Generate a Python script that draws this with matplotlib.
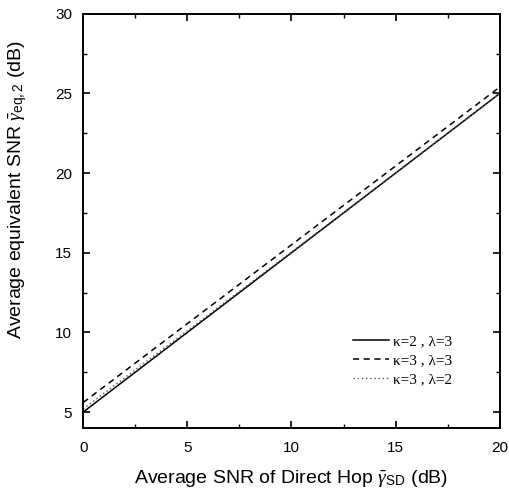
import matplotlib
matplotlib.use("Agg")
import matplotlib.pyplot as plt
from matplotlib.ticker import MultipleLocator

x_snr = [0, 5, 10, 15, 20]
y_k2_l3 = [5.0, 10.0, 15.0, 20.0, 25.0]
y_k3_l3 = [5.6, 10.55, 15.5, 20.45, 25.4]
y_k3_l2 = [5.2, 10.1, 15.05, 20.02, 25.0]
labels = [r"κ=2 , λ=3", r"κ=3 , λ=3", r"κ=3 , λ=2"]

plt.rcParams['font.family'] = ['Liberation Sans', 'DejaVu Sans']
plt.rcParams['mathtext.fontset'] = 'custom'
plt.rcParams['mathtext.rm'] = 'Liberation Sans'
plt.rcParams['mathtext.it'] = 'Liberation Serif:italic'

fig = plt.figure(figsize=(5.1, 4.92), dpi=100)
ax = fig.add_axes([0.163, 0.130, 0.817, 0.842])

ax.plot(x_snr, y_k2_l3, color='black', lw=1.1, ls='-', label=labels[0])
ax.plot(x_snr, y_k3_l3, color='black', lw=1.1, ls=(0, (4, 3)), label=labels[1])
ax.plot(x_snr, y_k3_l2, color='#555555', lw=1.0, ls=(0, (1, 2)), label=labels[2])

ax.set_xlim(0, 20)
ax.set_ylim(4, 30)
ax.xaxis.set_major_locator(MultipleLocator(5))
ax.xaxis.set_minor_locator(MultipleLocator(2.5))
ax.yaxis.set_major_locator(MultipleLocator(5))
ax.yaxis.set_minor_locator(MultipleLocator(2.5))
ax.tick_params(which='both', direction='in', top=True, right=True, labelsize=11)
ax.tick_params(axis='x', which='major', pad=9)
ax.tick_params(axis='y', which='major', pad=8)
ax.tick_params(which='major', length=5, width=1.2)
ax.tick_params(which='minor', length=3, width=1.0)
for s in ax.spines.values():
    s.set_linewidth(1.4)

ax.set_xlabel(r"Average SNR of Direct Hop $\bar{\gamma}_{\mathrm{SD}}$ (dB)", fontsize=14, labelpad=9.5)
ax.set_ylabel(r"Average equivalent SNR $\bar{\gamma}_{\mathrm{eq,2}}$ (dB)", fontsize=14)
ax.yaxis.set_label_coords(-0.13, 0.575)

leg = ax.legend(loc='upper left', frameon=False, prop={'family': 'Liberation Serif', 'size': 11},
                handlelength=2.4, handletextpad=0.25, labelspacing=0.33,
                borderpad=0, borderaxespad=0,
                bbox_to_anchor=(0.647, 0.225))

fig.savefig("out.png", dpi=100)
